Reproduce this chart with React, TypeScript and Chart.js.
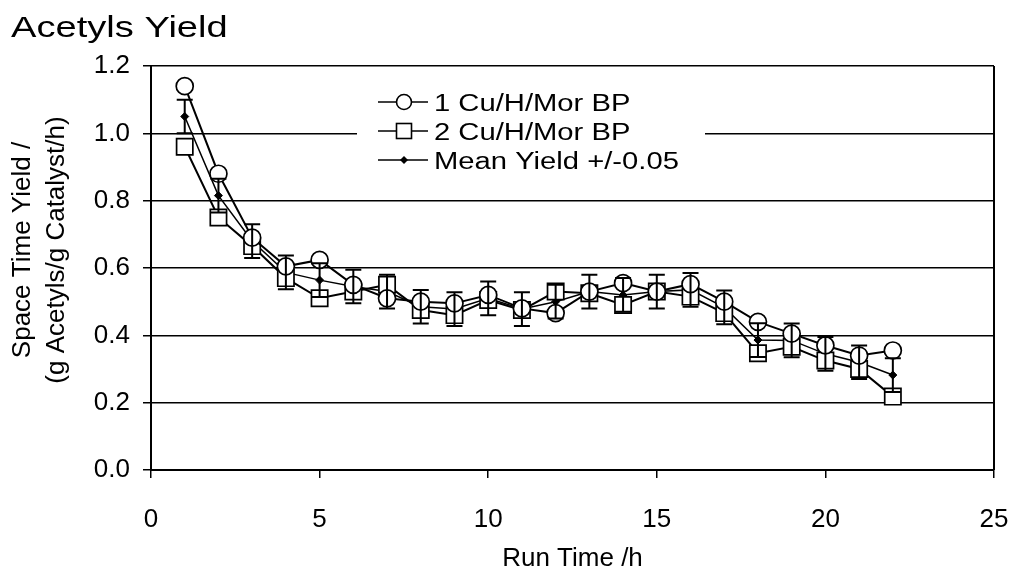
import React, { useEffect, useRef } from "react";
import { Chart, registerables } from "chart.js";

Chart.register(...registerables);

const runTime = [1, 2, 3, 4, 5, 6, 7, 8, 9, 10, 11, 12, 13, 14, 15, 16, 17, 18, 19, 20, 21, 22];
const yield1 = [1.14, 0.88, 0.69, 0.605, 0.624, 0.55, 0.51, 0.50, 0.495, 0.52, 0.48, 0.466, 0.53, 0.555, 0.53, 0.552, 0.50, 0.44, 0.405, 0.37, 0.34, 0.355];
const yield2 = [0.96, 0.75, 0.665, 0.57, 0.51, 0.53, 0.55, 0.475, 0.46, 0.505, 0.475, 0.53, 0.525, 0.49, 0.53, 0.515, 0.466, 0.347, 0.366, 0.325, 0.30, 0.218];
const meanYield = [1.05, 0.815, 0.68, 0.587, 0.564, 0.545, 0.53, 0.485, 0.478, 0.51, 0.478, 0.50, 0.53, 0.52, 0.53, 0.535, 0.483, 0.386, 0.385, 0.345, 0.32, 0.282];
const errorHalf = 0.05;

const xTicks = [0, 5, 10, 15, 20, 25];
const yTicks = [0, 0.2, 0.4, 0.6, 0.8, 1.0, 1.2];

const chartTitle = "Acetyls Yield";
const seriesLabels = ["1 Cu/H/Mor BP", "2 Cu/H/Mor BP", "Mean Yield +/-0.05"];
const xTitle = "Run Time /h";
const yTitle = ["Space Time Yield /", "(g Acetyls/g Catalyst/h)"];

const FONT = "'Liberation Sans', Arial, sans-serif";
const STRETCH = 1.27;

function drawMarker(ctx: CanvasRenderingContext2D, kind: number, x: number, y: number) {
  ctx.save();
  ctx.strokeStyle = "#000";
  ctx.fillStyle = "#fff";
  ctx.lineWidth = 1.6;
  if (kind === 0) {
    ctx.beginPath();
    ctx.arc(x, y, 7.5, 0, Math.PI * 2);
    ctx.fill();
    ctx.stroke();
  } else if (kind === 1) {
    const h = 7.5;
    ctx.fillRect(x - h, y - h, 2 * h, 2 * h);
    ctx.strokeRect(x - h, y - h, 2 * h, 2 * h);
  } else {
    ctx.fillStyle = "#000";
    const r = 4;
    ctx.beginPath();
    ctx.moveTo(x, y - r);
    ctx.lineTo(x + r, y);
    ctx.lineTo(x, y + r);
    ctx.lineTo(x - r, y);
    ctx.closePath();
    ctx.fill();
  }
  ctx.restore();
}

const decorPlugin = {
  id: "decor",
  afterDatasetsDraw(chart: any) {
    const ctx: CanvasRenderingContext2D = chart.ctx;
    const xs = chart.scales.x;
    const ys = chart.scales.y;
    const area = chart.chartArea;

    // error bars on mean series
    ctx.save();
    ctx.strokeStyle = "#000";
    ctx.lineWidth = 2;
    runTime.forEach((t, i) => {
      const px = xs.getPixelForValue(t);
      const top = ys.getPixelForValue(meanYield[i] + errorHalf);
      const bot = ys.getPixelForValue(meanYield[i] - errorHalf);
      ctx.beginPath();
      ctx.moveTo(px, top);
      ctx.lineTo(px, bot);
      ctx.moveTo(px - 8, top);
      ctx.lineTo(px + 8, top);
      ctx.moveTo(px - 8, bot);
      ctx.lineTo(px + 8, bot);
      ctx.stroke();
    });
    ctx.restore();

    // right frame line
    ctx.save();
    ctx.strokeStyle = "#000";
    ctx.lineWidth = 2;
    ctx.beginPath();
    ctx.moveTo(area.right, area.top);
    ctx.lineTo(area.right, area.bottom);
    ctx.stroke();
    ctx.restore();

    // legend
    ctx.save();
    ctx.fillStyle = "#fff";
    ctx.fillRect(357, 82, 348, 100);
    const rows = [102, 131, 160];
    rows.forEach((ry, k) => {
      ctx.strokeStyle = "#000";
      ctx.lineWidth = k === 2 ? 1.5 : 1.7;
      ctx.beginPath();
      ctx.moveTo(378, ry);
      ctx.lineTo(428, ry);
      ctx.stroke();
      drawMarker(ctx, k, 404, ry);
      ctx.save();
      ctx.translate(434, ry + 8.5);
      ctx.scale(STRETCH, 1);
      ctx.fillStyle = "#000";
      ctx.font = `23px ${FONT}`;
      ctx.textBaseline = "alphabetic";
      ctx.textAlign = "left";
      ctx.fillText(seriesLabels[k], 0, 0);
      ctx.restore();
    });
    ctx.restore();

    // chart title
    ctx.save();
    ctx.translate(11, 37);
    ctx.scale(STRETCH, 1);
    ctx.fillStyle = "#000";
    ctx.font = `30px ${FONT}`;
    ctx.textBaseline = "alphabetic";
    ctx.fillText(chartTitle, 0, 0);
    ctx.restore();

    // y axis title (two lines, rotated)
    ctx.save();
    ctx.fillStyle = "#000";
    ctx.font = `26px ${FONT}`;
    ctx.textAlign = "center";
    ctx.textBaseline = "middle";
    const cy = 250;
    const xsPos = [23, 57];
    yTitle.forEach((line, k) => {
      ctx.save();
      ctx.translate(xsPos[k], cy);
      ctx.rotate(-Math.PI / 2);
      ctx.fillText(line, 0, 0);
      ctx.restore();
    });
    ctx.restore();
  },
};

export default function App() {
  const canvasRef = useRef<HTMLCanvasElement | null>(null);

  useEffect(() => {
    const canvas = canvasRef.current;
    if (!canvas) return;
    const toPts = (arr: number[]) => runTime.map((t, i) => ({ x: t, y: arr[i] }));
    const chart = new Chart(canvas, {
      type: "line",
      data: {
        datasets: [
          {
            label: seriesLabels[0],
            data: toPts(yield1),
            borderColor: "#000",
            borderWidth: 2,
            pointStyle: "circle",
            pointRadius: 8.5,
            pointBackgroundColor: "#fff",
            pointBorderColor: "#000",
            pointBorderWidth: 1.7,
            tension: 0,
            fill: false,
          },
          {
            label: seriesLabels[1],
            data: toPts(yield2),
            borderColor: "#000",
            borderWidth: 2,
            pointStyle: "rect",
            pointRadius: 11.5,
            pointBackgroundColor: "#fff",
            pointBorderColor: "#000",
            pointBorderWidth: 1.7,
            tension: 0,
            fill: false,
          },
          {
            label: seriesLabels[2],
            data: toPts(meanYield),
            borderColor: "#000",
            borderWidth: 1.5,
            pointStyle: "rectRot",
            pointRadius: 4,
            pointBackgroundColor: "#000",
            pointBorderColor: "#000",
            pointBorderWidth: 1,
            tension: 0,
            fill: false,
          },
        ],
      },
      options: {
        animation: false,
        responsive: false,
        maintainAspectRatio: false,
        layout: { padding: { top: 66, right: 22, bottom: 0, left: 0 } },
        plugins: {
          legend: { display: false },
          title: { display: false },
          tooltip: { enabled: false },
        },
        scales: {
          x: {
            type: "linear",
            min: 0,
            max: 25,
            afterBuildTicks: (scale: any) => {
              scale.ticks = xTicks.map((v) => ({ value: v }));
            },
            afterFit: (scale: any) => {
              scale.height = 103;
              scale.paddingLeft = 0;
              scale.paddingRight = 0;
            },
            grid: {
              drawOnChartArea: false,
              drawTicks: true,
              tickLength: 8,
              color: "#000",
              lineWidth: 1.5,
            },
            border: { display: true, color: "#000", width: 2 },
            ticks: {
              color: "#000",
              font: { family: FONT, size: 26 },
              padding: 26,
              maxRotation: 0,
              callback: (v: any) => String(v),
            },
            title: {
              display: true,
              text: xTitle,
              color: "#000",
              font: { family: FONT, size: 26, lineHeight: 1.1 },
              padding: { top: 0, bottom: 0 },
            },
          },
          y: {
            type: "linear",
            min: 0,
            max: 1.2,
            afterBuildTicks: (scale: any) => {
              scale.ticks = yTicks.map((v) => ({ value: v }));
            },
            afterFit: (scale: any) => {
              scale.width = 151;
              scale.paddingTop = 0;
              scale.paddingBottom = 0;
            },
            grid: {
              drawOnChartArea: true,
              drawTicks: true,
              tickLength: 8,
              color: "#000",
              lineWidth: 1.5,
            },
            border: { display: true, color: "#000", width: 2 },
            ticks: {
              color: "#000",
              font: { family: FONT, size: 26 },
              padding: 13,
              callback: (v: any) => Number(v).toFixed(1),
            },
            title: { display: false },
          },
        },
      },
      plugins: [decorPlugin],
    } as any);
    return () => chart.destroy();
  }, []);

  return (
    <div style={{ position: "fixed", left: 0, top: 0, width: 1016, height: 573, background: "#fff" }}>
      <canvas ref={canvasRef} width={1016} height={573} style={{ display: "block", width: 1016, height: 573 }} />
    </div>
  );
}
